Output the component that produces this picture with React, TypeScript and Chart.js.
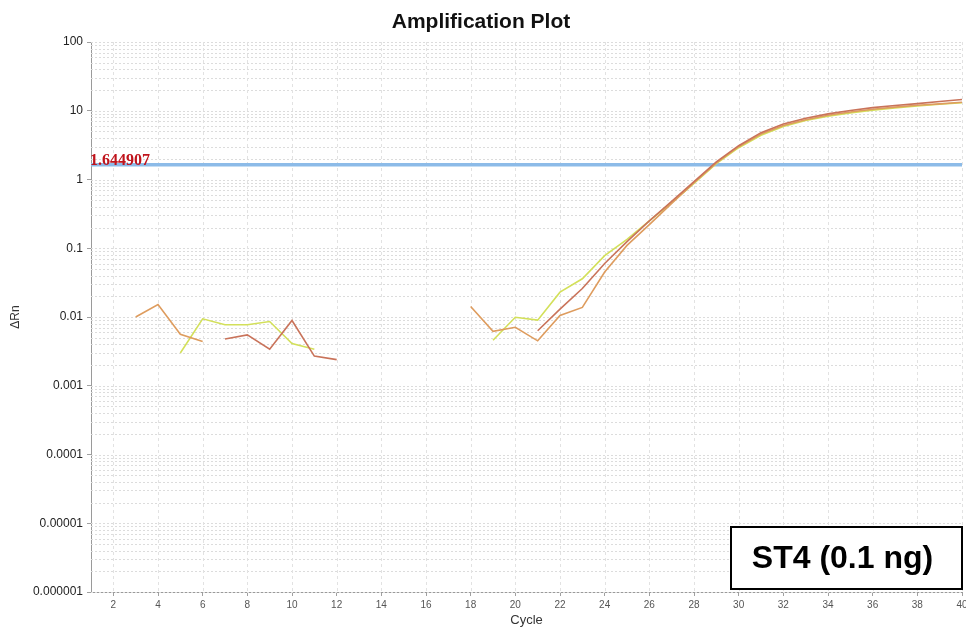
import React, { useEffect, useRef } from "react";
import { Chart, registerables } from "chart.js";

Chart.register(...registerables);

// Cycle numbers 1..40
const cycles: number[] = Array.from({ length: 40 }, (_, i) => i + 1);

// ΔRn per cycle (null = not plotted)
const wellA: (number | null)[] = [
  null, null, 0.0100, 0.0152, 0.0056, 0.0044, null, null, null, null,
  null, null, null, null, null, null, null, 0.0142, 0.0062, 0.0071,
  0.0045, 0.0105, 0.0138, 0.045, 0.11, 0.22, 0.45, 0.90, 1.75, 3.0,
  4.6, 6.1, 7.4, 8.6, 9.6, 10.5, 11.3, 12.0, 12.6, 13.3,
];
const wellB: (number | null)[] = [
  null, null, null, null, null, null, 0.0048, 0.0055, 0.0034, 0.0089,
  0.0027, 0.0024, null, null, null, null, null, null, null, null,
  0.0063, 0.0130, 0.026, 0.060, 0.125, 0.25, 0.48, 0.93, 1.8, 3.1,
  4.8, 6.4, 7.8, 9.0, 10.1, 11.1, 11.9, 12.7, 13.6, 14.6,
];
const wellC: (number | null)[] = [
  null, null, null, null, 0.0030, 0.0094, 0.0077, 0.0077, 0.0086, 0.0041,
  0.0034, null, null, null, null, null, null, null, 0.0046, 0.0099,
  0.0090, 0.023, 0.036, 0.078, 0.135, 0.25, 0.46, 0.88, 1.7, 2.9,
  4.4, 5.9, 7.2, 8.3, 9.3, 10.2, 11.0, 11.7, 12.4, 13.1,
];

const threshold = 1.644907;
const xTicks: number[] = [2, 4, 6, 8, 10, 12, 14, 16, 18, 20, 22, 24, 26, 28, 30, 32, 34, 36, 38, 40];
const yTickValues: number[] = [100, 10, 1, 0.1, 0.01, 0.001, 0.0001, 0.00001, 0.000001];
const yTickLabels: string[] = ["100", "10", "1", "0.1", "0.01", "0.001", "0.0001", "0.00001", "0.000001"];
const sampleLabel = "ST4 (0.1 ng)";

const toPoints = (vals: (number | null)[]) =>
  cycles.map((c, i) => ({ x: c, y: vals[i] }));

const gridPlugin = {
  id: "plotGrid",
  beforeDatasetsDraw(chart: any) {
    const { ctx, chartArea, scales } = chart;
    const xs = scales.x;
    const ys = scales.y;
    ctx.save();
    ctx.lineWidth = 1;
    // horizontal log grid: 1..9 in each decade
    ctx.strokeStyle = "#dcdcdc";
    ctx.setLineDash([2, 2]);
    for (let k = -6; k <= 1; k++) {
      for (let m = 1; m <= 9; m++) {
        const v = m * Math.pow(10, k);
        const y = Math.round(ys.getPixelForValue(v)) + 0.5;
        ctx.beginPath();
        ctx.moveTo(chartArea.left, y);
        ctx.lineTo(chartArea.right, y);
        ctx.stroke();
      }
    }
    const yTop = Math.round(ys.getPixelForValue(100)) + 0.5;
    ctx.beginPath();
    ctx.moveTo(chartArea.left, yTop);
    ctx.lineTo(chartArea.right, yTop);
    ctx.stroke();
    // vertical grid at even cycles
    ctx.strokeStyle = "#e2e2e2";
    ctx.setLineDash([3, 3]);
    xTicks.forEach((c) => {
      const x = Math.round(xs.getPixelForValue(c)) + 0.5;
      ctx.beginPath();
      ctx.moveTo(x, chartArea.top);
      ctx.lineTo(x, chartArea.bottom);
      ctx.stroke();
    });
    ctx.restore();
  },
  afterDraw(chart: any) {
    const { ctx, chartArea, scales } = chart;
    ctx.save();
    // threshold value
    const ty = scales.y.getPixelForValue(threshold);
    ctx.fillStyle = "#c0141c";
    ctx.font = "bold 16px 'Liberation Serif', 'DejaVu Serif', serif";
    ctx.textAlign = "left";
    ctx.textBaseline = "alphabetic";
    ctx.fillText(threshold.toFixed(6), chartArea.left - 1, ty);
    // sample label box
    const bx = 731, by = 527, bw = 231, bh = 62;
    ctx.fillStyle = "#ffffff";
    ctx.fillRect(bx, by, bw, bh);
    ctx.strokeStyle = "#000000";
    ctx.lineWidth = 2;
    ctx.strokeRect(bx, by, bw, bh);
    ctx.fillStyle = "#000000";
    ctx.font = "bold 32px 'Liberation Sans', Arial, sans-serif";
    ctx.textAlign = "center";
    ctx.textBaseline = "middle";
    ctx.fillText(sampleLabel, bx + bw / 2 - 4, by + bh / 2 + 1);
    ctx.restore();
  },
};

export default function App() {
  const canvasRef = useRef<HTMLCanvasElement | null>(null);

  useEffect(() => {
    if (!canvasRef.current) return;
    const chart = new Chart(canvasRef.current, {
      type: "line",
      data: {
        datasets: [
          {
            label: "B",
            data: toPoints(wellB),
            borderColor: "#c9735a",
            borderWidth: 1.6,
            pointRadius: 0,
            tension: 0,
          },
          {
            label: "A",
            data: toPoints(wellA),
            borderColor: "#de9c5e",
            borderWidth: 1.6,
            pointRadius: 0,
            tension: 0,
          },
          {
            label: "C",
            data: toPoints(wellC),
            borderColor: "#d3e05a",
            borderWidth: 1.6,
            pointRadius: 0,
            tension: 0,
          },
          {
            label: "Threshold",
            data: [
              { x: 1, y: threshold },
              { x: 40, y: threshold },
            ],
            borderColor: "#8cbbe8",
            borderWidth: 3.5,
            pointRadius: 0,
          },
        ],
      },
      options: {
        responsive: false,
        animation: false,
        devicePixelRatio: 1,
        layout: { padding: { top: 0, right: 4, bottom: 0, left: 0 } },
        plugins: {
          legend: { display: false },
          tooltip: { enabled: false },
          title: {
            display: true,
            text: "Amplification Plot",
            color: "#111111",
            font: { family: "'Liberation Sans', Arial, sans-serif", size: 21, weight: "bold", lineHeight: 1.2 },
            padding: { top: 10, bottom: 6.8 },
          },
        },
        scales: {
          x: {
            type: "linear",
            min: 1,
            max: 40,
            afterBuildTicks: (scale: any) => {
              scale.ticks = xTicks.map((v) => ({ value: v }));
            },
            afterFit: (scale: any) => {
              scale.height = 38;
              scale.paddingLeft = 0;
              scale.paddingRight = 0;
            },
            grid: { drawOnChartArea: false, drawTicks: true, tickLength: 4, color: "#a0a0a0" },
            border: { color: "#9a9a9a", width: 1 },
            ticks: {
              color: "#555555",
              font: { family: "'Liberation Sans', Arial, sans-serif", size: 10 },
              padding: 3,
              maxRotation: 0,
              autoSkip: false,
            },
            title: {
              display: true,
              text: "Cycle",
              color: "#333333",
              font: { family: "'Liberation Sans', Arial, sans-serif", size: 13 },
              padding: { top: 0, bottom: 2 },
            },
          },
          y: {
            type: "logarithmic",
            min: 0.000001,
            max: 100,
            afterBuildTicks: (scale: any) => {
              scale.ticks = yTickValues.map((v) => ({ value: v }));
            },
            afterFit: (scale: any) => {
              scale.width = 91;
              scale.paddingTop = 0;
              scale.paddingBottom = 0;
            },
            grid: { drawOnChartArea: false, drawTicks: true, tickLength: 4, color: "#a0a0a0" },
            border: { color: "#9a9a9a", width: 1 },
            ticks: {
              color: "#222222",
              font: { family: "'Liberation Sans', Arial, sans-serif", size: 12 },
              padding: 4,
              autoSkip: false,
              callback: (value: any) => {
                const idx = yTickValues.findIndex((v) => Math.abs(v - Number(value)) / v < 1e-6);
                return idx >= 0 ? yTickLabels[idx] : "";
              },
            },
            title: {
              display: true,
              text: "ΔRn",
              color: "#333333",
              font: { family: "'Liberation Sans', Arial, sans-serif", size: 12 },
              padding: { top: 8, bottom: 0 },
            },
          },
        },
      },
      plugins: [gridPlugin],
    } as any);
    return () => chart.destroy();
  }, []);

  return (
    <div style={{ position: "fixed", left: 0, top: 0, width: 966, height: 630, background: "#ffffff" }}>
      <canvas ref={canvasRef} width={966} height={630} />
    </div>
  );
}
